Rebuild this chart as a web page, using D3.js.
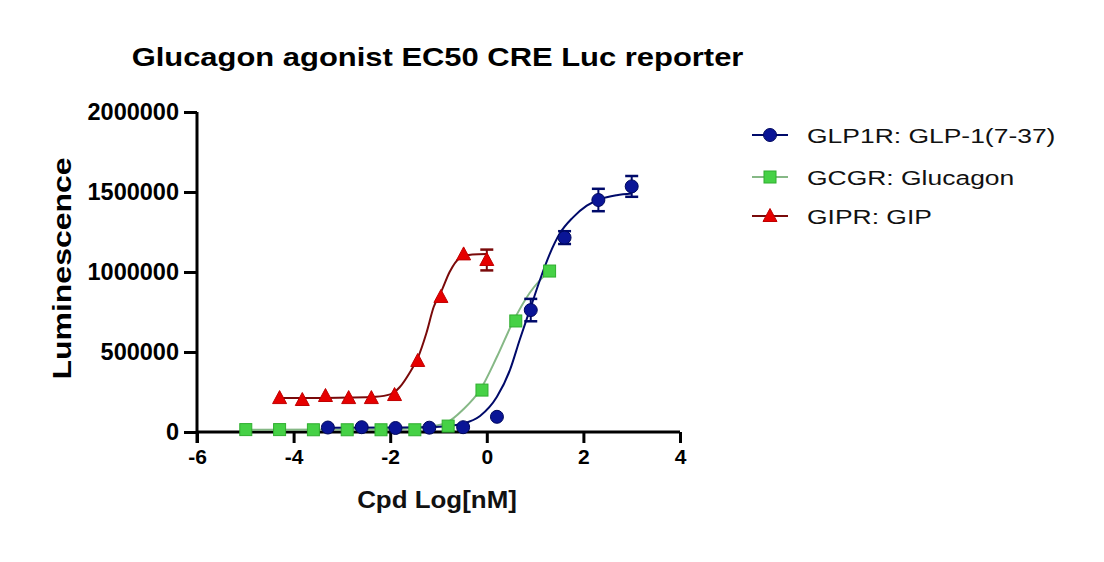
<!DOCTYPE html>
<html><head><meta charset="utf-8">
<script src="https://cdn.jsdelivr.net/npm/d3@7"></script>
<style>
html,body{margin:0;padding:0;background:#fff;}
svg{display:block;font-family:"Liberation Sans",Arial,sans-serif;}
</style></head>
<body><svg id="c" width="1104" height="562"></svg>
<script>
// ---- data ----
const xTicks = [-6, -4, -2, 0, 2, 4];
const yTicks = [0, 500000, 1000000, 1500000, 2000000];
const seriesNames = ["GLP1R: GLP-1(7-37)", "GCGR: Glucagon", "GIPR: GIP"];

const glp1rLogX = [-3.29, -2.59, -1.89, -1.19, -0.49, 0.21, 0.91, 1.61, 2.31, 3.0];
const glp1rY    = [28000, 30000, 25000, 27000, 30000, 95000, 762000, 1215000, 1450000, 1535000];
const glp1rErr  = [0, 0, 0, 0, 0, 0, 70000, 40000, 70000, 65000];

const gcgrLogX = [-4.99, -4.29, -3.59, -2.89, -2.19, -1.49, -0.80, -0.10, 0.60, 1.30];
const gcgrY    = [15000, 15000, 14000, 14000, 14000, 14000, 37000, 262000, 694000, 1006000];
const gcgrErr  = [0, 0, 0, 0, 0, 0, 0, 0, 0, 0];

const giprLogX = [-4.29, -3.82, -3.34, -2.86, -2.39, -1.91, -1.43, -0.95, -0.48, 0.0];
const giprY    = [212000, 200000, 225000, 212000, 212000, 231000, 444000, 844000, 1110000, 1075000];
const giprErr  = [0, 0, 0, 0, 0, 0, 0, 0, 0, 65000];

// fitted curves
const glp1rCurveX = [-3.29, -2.0, -1.2, -0.8, -0.5, -0.14, 0.21, 0.48, 0.68, 0.89, 1.10, 1.30, 1.51, 1.78, 2.07, 2.34, 2.69, 3.0];
const glp1rCurveY = [27000, 28000, 31000, 38000, 52000, 100000, 220000, 388000, 575000, 762000, 950000, 1110000, 1240000, 1340000, 1415000, 1455000, 1480000, 1490000];
const gcgrCurveX = [-4.99, -3.0, -2.0, -1.5, -1.1, -0.83, -0.5, -0.14, 0.21, 0.54, 0.89, 1.30];
const gcgrCurveY = [14000, 15000, 18000, 24000, 38000, 58000, 137000, 262000, 470000, 687000, 870000, 1010000];
const giprCurveX = [-4.29, -3.5, -2.8, -2.3, -2.0, -1.8, -1.6, -1.43, -1.25, -1.1, -0.93, -0.77, -0.56, -0.3, 0.0];
const giprCurveY = [212000, 213000, 215000, 220000, 235000, 281000, 369000, 462000, 619000, 781000, 887000, 1000000, 1087000, 1110000, 1112000];

// ---- drawing ----
const svg = d3.select("#c");
const x = d3.scaleLinear().domain([-6, 4]).range([197, 680]);
const y = d3.scaleLinear().domain([0, 2000000]).range([432, 112]);

const styles = [
  {fill:"#0a1596", stroke:"#00085e", line:"#000a6a", shape:"circle"},
  {fill:"#46d146", stroke:"#2fae2f", line:"#86b886", shape:"square"},
  {fill:"#e60000", stroke:"#c00000", line:"#7a0a0a", shape:"triangle"}
];
const series = [
  {xs:gcgrLogX, ys:gcgrY, err:gcgrErr, cx:gcgrCurveX, cy:gcgrCurveY, st:styles[1]},
  {xs:giprLogX, ys:giprY, err:giprErr, cx:giprCurveX, cy:giprCurveY, st:styles[2]},
  {xs:glp1rLogX, ys:glp1rY, err:glp1rErr, cx:glp1rCurveX, cy:glp1rCurveY, st:styles[0]}
];

function marker(g, shape, st, px, py) {
  if (shape === "circle") {
    g.append("circle").attr("cx", px).attr("cy", py).attr("r", 6.5)
      .attr("fill", st.fill).attr("stroke", st.stroke).attr("stroke-width", 1);
  } else if (shape === "square") {
    g.append("rect").attr("x", px-6).attr("y", py-6).attr("width", 12).attr("height", 12)
      .attr("fill", st.fill).attr("stroke", st.stroke).attr("stroke-width", 1);
  } else {
    g.append("path").attr("d", `M${px},${py-7.5}L${px+7},${py+5.5}L${px-7},${py+5.5}Z`)
      .attr("fill", st.fill).attr("stroke", st.stroke).attr("stroke-width", 1);
  }
}

// axes
const axG = svg.append("g");
const yAxis = d3.axisLeft(y).tickValues(yTicks).tickSize(13).tickPadding(5).tickFormat(d3.format("d"));
const gy = axG.append("g").attr("transform", "translate(197,0)").call(yAxis);
gy.select(".domain").attr("d", `M0,${y(2000000)}V443`).attr("stroke-width", 3).attr("stroke", "#000");
gy.selectAll(".tick line").attr("stroke-width", 3).attr("stroke", "#000");
gy.selectAll("text").attr("font-size", 23.5).attr("font-weight", "bold").attr("fill", "#000")
  .attr("font-family", "'Liberation Sans',Arial,sans-serif");

const xAxis = d3.axisBottom(x).tickValues(xTicks).tickSize(11).tickPadding(6).tickFormat(d3.format("d"));
const gx = axG.append("g").attr("transform", "translate(0,432)").call(xAxis);
gx.select(".domain").attr("d", `M${x(-6)},0H${x(4)}`).attr("stroke-width", 3).attr("stroke", "#000");
gx.selectAll(".tick line").attr("stroke-width", 3).attr("stroke", "#000");
gx.selectAll("text").attr("font-size", 21).attr("font-weight", "bold").attr("fill", "#000")
  .attr("font-family", "'Liberation Sans',Arial,sans-serif")
  .text(d => d < 0 ? "-" + Math.abs(d) : d);

// curves, error bars, points
const line = d3.line().x(d => x(d[0])).y(d => y(d[1])).curve(d3.curveMonotoneX);
series.forEach(s => {
  const pts = s.cx.map((v, i) => [v, s.cy[i]]);
  svg.append("path").attr("d", line(pts)).attr("fill", "none")
    .attr("stroke", s.st.line).attr("stroke-width", 2);
});
series.forEach(s => {
  const g = svg.append("g");
  s.xs.forEach((v, i) => {
    if (s.err[i] > 0) {
      const px = x(v), y1 = y(s.ys[i] + s.err[i]), y2 = y(s.ys[i] - s.err[i]);
      g.append("line").attr("x1", px).attr("x2", px).attr("y1", y1).attr("y2", y2)
        .attr("stroke", s.st.line).attr("stroke-width", 2);
      [y1, y2].forEach(yy => g.append("line").attr("x1", px-6.5).attr("x2", px+6.5)
        .attr("y1", yy).attr("y2", yy).attr("stroke", s.st.line).attr("stroke-width", 2.5));
    }
  });
  s.xs.forEach((v, i) => marker(g, s.st.shape, s.st, x(v), y(s.ys[i])));
});

// titles
svg.append("text").attr("transform", "translate(437.5,66) scale(1.19,1)").attr("text-anchor", "middle")
  .attr("font-size", 26).attr("font-weight", "bold").attr("fill", "#000")
  .text("Glucagon agonist EC50 CRE Luc reporter");
svg.append("text").attr("transform", "translate(437,508) scale(1.08,1)").attr("text-anchor", "middle")
  .attr("font-size", 24).attr("font-weight", "bold").attr("fill", "#111")
  .text("Cpd Log[nM]");
svg.append("text").attr("transform", "translate(71,268.5) rotate(-90) scale(1.28,1)").attr("text-anchor", "middle")
  .attr("font-size", 25).attr("font-weight", "bold").attr("fill", "#000")
  .text("Luminescence");

// legend
const legRows = [135, 177, 216];
const legOrder = [0, 1, 2];
legOrder.forEach((k, i) => {
  const st = styles[k], cy = legRows[i];
  const g = svg.append("g");
  g.append("line").attr("x1", 752).attr("x2", 788).attr("y1", cy).attr("y2", cy)
    .attr("stroke", st.line).attr("stroke-width", 2);
  marker(g, st.shape, st, 770, cy);
  g.append("text").attr("transform", `translate(807,${cy + 8}) scale(1.26,1)`)
    .attr("font-size", 21).attr("fill", "#111")
    .text(seriesNames[k]);
});
</script></body></html>
